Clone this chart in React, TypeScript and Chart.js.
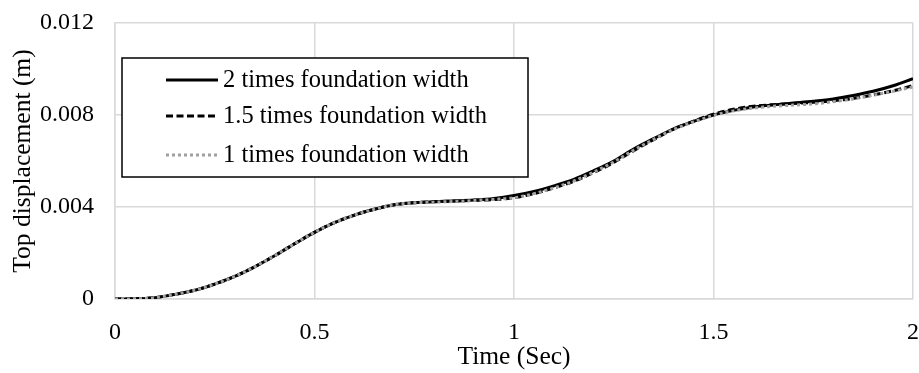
import React, { useEffect, useRef } from "react";
import { Chart, registerables } from "chart.js";

Chart.register(...registerables);

const TIME = [
  0, 0.05, 0.1, 0.15, 0.2, 0.25, 0.3, 0.35, 0.4, 0.45, 0.5, 0.55, 0.6, 0.65, 0.7, 0.75, 0.8, 0.85, 0.9, 0.95,
  1.0, 1.05, 1.1, 1.15, 1.2, 1.25, 1.3, 1.35, 1.4, 1.45, 1.5, 1.55, 1.6, 1.65, 1.7, 1.75, 1.8, 1.85, 1.9, 1.95, 2.0,
];

const TWO_TIMES = [
  0, 0.00001, 0.00006, 0.0002, 0.00038, 0.00065, 0.00098, 0.0014, 0.00188, 0.0024, 0.0029, 0.00332, 0.00365,
  0.0039, 0.0041, 0.00419, 0.00423, 0.00426, 0.0043, 0.00437, 0.0045, 0.00468, 0.00492, 0.0052, 0.00558, 0.006,
  0.00652, 0.00697, 0.0074, 0.00772, 0.008, 0.0082, 0.00835, 0.00844, 0.00852, 0.0086, 0.0087, 0.00885, 0.00903,
  0.00927, 0.00958,
];

const ONE_HALF_TIMES = [
  0, 0.00001, 0.00006, 0.0002, 0.00038, 0.00065, 0.00098, 0.0014, 0.00188, 0.0024, 0.0029, 0.00332, 0.00365,
  0.0039, 0.0041, 0.00419, 0.00423, 0.00426, 0.00429, 0.00432, 0.0044, 0.00458, 0.00483, 0.00512, 0.0055, 0.00594,
  0.00645, 0.00693, 0.00738, 0.00773, 0.00803, 0.00825, 0.00838, 0.00845, 0.0085, 0.00855, 0.00862, 0.00872,
  0.00887, 0.00905, 0.00928,
];

const ONE_TIMES = [
  0, 0.00001, 0.00006, 0.0002, 0.00038, 0.00065, 0.00098, 0.0014, 0.00188, 0.0024, 0.0029, 0.00332, 0.00365,
  0.0039, 0.0041, 0.00418, 0.00421, 0.00424, 0.00428, 0.00433, 0.0044, 0.00458, 0.00483, 0.00513, 0.00552, 0.00596,
  0.00647, 0.00694, 0.00737, 0.0077, 0.00798, 0.00818, 0.0083, 0.00838, 0.00843, 0.00848, 0.00858, 0.0087,
  0.00886, 0.00903, 0.00922,
];

const SERIES_LABELS = ["2 times foundation width", "1.5 times foundation width", "1 times foundation width"];
const X_TICKS = [0, 0.5, 1, 1.5, 2];
const Y_TICKS = [0, 0.004, 0.008, 0.012];
const X_TITLE = "Time (Sec)";
const Y_TITLE = "Top displacement (m)";

const FONT_FAMILY = "'Times New Roman', 'Liberation Serif', serif";

const legendBoxPlugin = {
  id: "legendBox",
  afterDraw(chart: any) {
    const ctx = chart.ctx as CanvasRenderingContext2D;
    const area = chart.chartArea;
    const bx = area.left + 7;
    const by = area.top + 35;
    const bw = 406;
    const bh = 119;
    ctx.save();
    ctx.fillStyle = "#ffffff";
    ctx.fillRect(bx, by, bw, bh);
    ctx.strokeStyle = "#000000";
    ctx.lineWidth = 1.5;
    ctx.strokeRect(bx, by, bw, bh);
    const rows = [by + 22, by + 58, by + 97];
    chart.data.datasets.forEach((ds: any, i: number) => {
      const y = rows[i];
      ctx.beginPath();
      ctx.strokeStyle = ds.borderColor;
      ctx.lineWidth = ds.borderWidth;
      ctx.setLineDash(ds.borderDash || []);
      ctx.moveTo(bx + 44, y);
      ctx.lineTo(bx + 96, y);
      ctx.stroke();
      ctx.setLineDash([]);
      ctx.fillStyle = "#000000";
      ctx.font = `24.5px ${FONT_FAMILY}`;
      ctx.textBaseline = "middle";
      ctx.textAlign = "left";
      ctx.fillText(ds.label, bx + 101, y + 1);
    });
    ctx.restore();
  },
};

export default function App() {
  const canvasRef = useRef<HTMLCanvasElement | null>(null);

  useEffect(() => {
    if (!canvasRef.current) return;
    const mk = (vals: number[]) => TIME.map((t, i) => ({ x: t, y: vals[i] }));
    const chart = new Chart(canvasRef.current, {
      type: "line",
      data: {
        datasets: [
          {
            label: SERIES_LABELS[0],
            data: mk(TWO_TIMES),
            borderColor: "#000000",
            borderWidth: 3,
            pointRadius: 0,
            cubicInterpolationMode: "monotone",
            order: 3,
          },
          {
            label: SERIES_LABELS[1],
            data: mk(ONE_HALF_TIMES),
            borderColor: "#000000",
            borderWidth: 3,
            borderDash: [7, 3.5],
            pointRadius: 0,
            cubicInterpolationMode: "monotone",
            order: 2,
          },
          {
            label: SERIES_LABELS[2],
            data: mk(ONE_TIMES),
            borderColor: "#a0a0a0",
            borderWidth: 3,
            borderDash: [3, 3],
            pointRadius: 0,
            cubicInterpolationMode: "monotone",
            order: 1,
          },
        ],
      },
      options: {
        responsive: false,
        animation: false,
        devicePixelRatio: 1,
        layout: { padding: { left: 0, right: 6, top: 23, bottom: 0 } },
        plugins: {
          legend: { display: false },
          tooltip: { enabled: false },
        },
        scales: {
          x: {
            type: "linear",
            min: 0,
            max: 2,
            afterBuildTicks: (scale: any) => {
              scale.ticks = X_TICKS.map((v) => ({ value: v }));
            },
            afterFit: (scale: any) => {
              scale.height = 74;
              scale.paddingLeft = 0;
              scale.paddingRight = 0;
            },
            ticks: {
              callback: (v: any) => String(v),
              color: "#000000",
              font: { family: FONT_FAMILY, size: 24 },
              padding: 19,
              maxRotation: 0,
            },
            grid: { color: "#d9d9d9", lineWidth: 1.5, drawTicks: false },
            border: { color: "#d9d9d9", width: 1.5 },
            title: {
              display: true,
              text: X_TITLE,
              color: "#000000",
              font: { family: FONT_FAMILY, size: 25.5 },
              padding: { top: 0, bottom: 0 },
            },
          },
          y: {
            type: "linear",
            min: 0,
            max: 0.012,
            afterBuildTicks: (scale: any) => {
              scale.ticks = Y_TICKS.map((v) => ({ value: v }));
            },
            afterFit: (scale: any) => {
              scale.width = 115;
              scale.paddingTop = 0;
              scale.paddingBottom = 0;
            },
            ticks: {
              callback: (v: any) => String(v),
              color: "#000000",
              font: { family: FONT_FAMILY, size: 24 },
              padding: 21,
            },
            grid: { color: "#d9d9d9", lineWidth: 1.5, drawTicks: false },
            border: { color: "#d9d9d9", width: 1.5 },
            title: {
              display: true,
              text: Y_TITLE,
              color: "#000000",
              font: { family: FONT_FAMILY, size: 25.5 },
              padding: { top: 8, bottom: 0 },
            },
          },
        },
      },
      plugins: [legendBoxPlugin],
    } as any);
    return () => chart.destroy();
  }, []);

  return (
    <div style={{ position: "absolute", left: 0, top: 0, width: 919, height: 373, background: "#ffffff" }}>
      <canvas ref={canvasRef} width={919} height={373} />
    </div>
  );
}
